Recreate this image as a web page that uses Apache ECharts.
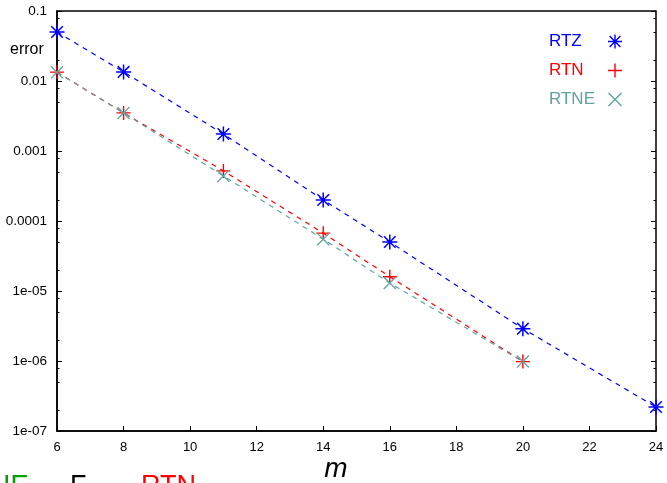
<!DOCTYPE html>
<html>
<head>
<meta charset="utf-8">
<script src="https://cdn.jsdelivr.net/npm/echarts@6/dist/echarts.min.js"></script>
<style>
  html, body { margin: 0; padding: 0; background: #fff; }
  #chart { width: 667px; height: 483px; }
</style>
</head>
<body>
<div id="chart"></div>
<script>
// m values on the x axis
const mValues = [6, 8, 11, 14, 16, 20, 24];
const mValuesShort = [6, 8, 11, 14, 16, 20];

// error values (log scale)
const rtz = [0.05, 0.0135, 0.00175, 0.0002, 0.00005, 0.0000029, 0.00000022];
const rtn = [0.0134, 0.0035, 0.00052, 0.000067, 0.000016, 0.00000098];
const rtne = [0.0133, 0.0035, 0.00044, 0.000055, 0.000013, 0.00000098];

const yMajor = [0.1, 0.01, 0.001, 0.0001, 0.00001, 0.000001, 0.0000001];
const yLabels = ['0.1', '0.01', '0.001', '0.0001', '1e-05', '1e-06', '1e-07'];
const yMinor = [];
for (let e = -7; e < -1; e++) {
    [2, 5, 8].forEach(k => yMinor.push(Number((k * Math.pow(10, e)).toPrecision(3))));
}

// marker shapes (filled thin bars, all same winding)
const plusPath = 'M45,0 L55,0 L55,100 L45,100 Z M0,45 L100,45 L100,55 L0,55 Z';
const crossPath = 'M0,7 L7,0 L100,93 L93,100 Z M93,0 L100,7 L7,100 L0,93 Z';
const starPath = 'path://' + plusPath + ' M8,15 L15,8 L92,85 L85,92 Z M85,8 L92,15 L15,92 L8,85 Z';

const font = '"Liberation Sans", Arial, sans-serif';
const blue = '#0000ff';
const red = '#ff0000';
const teal = '#62a2a2';

const chart = echarts.init(document.getElementById('chart'), null, { renderer: 'canvas' });

function pairs(xs, ys) {
    return ys.map((v, i) => [xs[i], v]);
}

function legendText(color) {
    return {
        rich: { t: { width: 54, align: 'left', color: color, fontSize: 17, fontFamily: font } }
    };
}

function logAxis(position, withLabels, ticks, len, idx) {
    return {
        type: 'log',
        logBase: 10,
        min: 1e-7,
        max: 0.1,
        position: position,
        axisLine: { show: idx === 0, lineStyle: { color: '#000', width: 1.5 } },
        splitLine: { show: false },
        axisTick: {
            show: true,
            inside: true,
            length: len,
            customValues: ticks,
            lineStyle: { color: '#000', width: 1 }
        },
        axisLabel: {
            show: withLabels,
            customValues: withLabels ? yMajor : undefined,
            margin: 10,
            color: '#000',
            fontSize: 13.5,
            fontFamily: font,
            formatter: function (v) {
                const i = yMajor.findIndex(t => Math.abs(Math.log10(t) - Math.log10(v)) < 1e-6);
                return i >= 0 ? yLabels[i] : '';
            }
        }
    };
}

const option = {
    backgroundColor: '#fff',
    animation: false,
    grid: {
        left: 57,
        right: 11,
        top: 11,
        bottom: 52,
        show: true,
        borderColor: '#000',
        borderWidth: 1.5
    },
    legend: {
        orient: 'vertical',
        left: 549,
        top: 33,
        padding: 0,
        align: 'right',
        itemWidth: 14,
        itemHeight: 14,
        itemGap: 12,
        formatter: '{t|{name}}',
        textStyle: { fontSize: 17, fontFamily: font },
        data: [
            { name: 'RTZ', icon: starPath, textStyle: legendText(blue) },
            { name: 'RTN', icon: 'path://' + plusPath, textStyle: legendText(red) },
            { name: 'RTNE', icon: 'path://' + crossPath, textStyle: legendText(teal) }
        ]
    },
    xAxis: {
        type: 'value',
        min: 6,
        max: 24,
        interval: 2,
        axisLine: { lineStyle: { color: '#000', width: 1.5 } },
        splitLine: { show: false },
        axisTick: { inside: true, length: 5, lineStyle: { color: '#000' } },
        axisLabel: { margin: 10, color: '#000', fontSize: 13, fontFamily: font }
    },
    yAxis: [
        logAxis('left', true, yMajor, 5, 0),
        logAxis('left', false, yMinor, 2.5, 1),
        logAxis('right', false, yMajor, 5, 2),
        logAxis('right', false, yMinor, 2.5, 3)
    ],
    title: {
        text: 'error',
        left: 5,
        top: 37,
        textStyle: { fontSize: 16, fontWeight: 'normal', color: '#000', fontFamily: font }
    },
    graphic: [
        { type: 'text', x: 336, y: 469, style: { text: 'm', font: 'italic 28px ' + font, fill: '#000', align: 'center', verticalAlign: 'middle' } },
        { type: 'text', x: 3, y: 487, style: { text: 'IE', font: '27px ' + font, fill: '#00a000', align: 'left', verticalAlign: 'middle' } },
        { type: 'text', x: 70, y: 487, style: { text: 'F', font: '27px ' + font, fill: '#000', align: 'left', verticalAlign: 'middle' } },
        { type: 'text', x: 141, y: 487, style: { text: 'RTN', font: '27px ' + font, fill: red, align: 'left', verticalAlign: 'middle' } }
    ],
    series: [
        {
            name: 'RTZ',
            type: 'line',
            data: pairs(mValues, rtz),
            symbol: starPath,
            symbolSize: 15,
            itemStyle: { color: blue },
            lineStyle: { color: blue, width: 1.2, type: [5, 5] }
        },
        {
            name: 'RTN',
            type: 'line',
            data: pairs(mValuesShort, rtn),
            symbol: 'path://' + plusPath,
            symbolSize: 14,
            itemStyle: { color: red },
            lineStyle: { color: red, width: 1.2, type: [5, 5] }
        },
        {
            name: 'RTNE',
            type: 'line',
            data: pairs(mValuesShort, rtne),
            symbol: 'path://' + crossPath,
            symbolSize: 13,
            itemStyle: { color: teal },
            lineStyle: { color: teal, width: 1.2, type: [5, 5] }
        }
    ]
};

chart.setOption(option);
</script>
</body>
</html>
